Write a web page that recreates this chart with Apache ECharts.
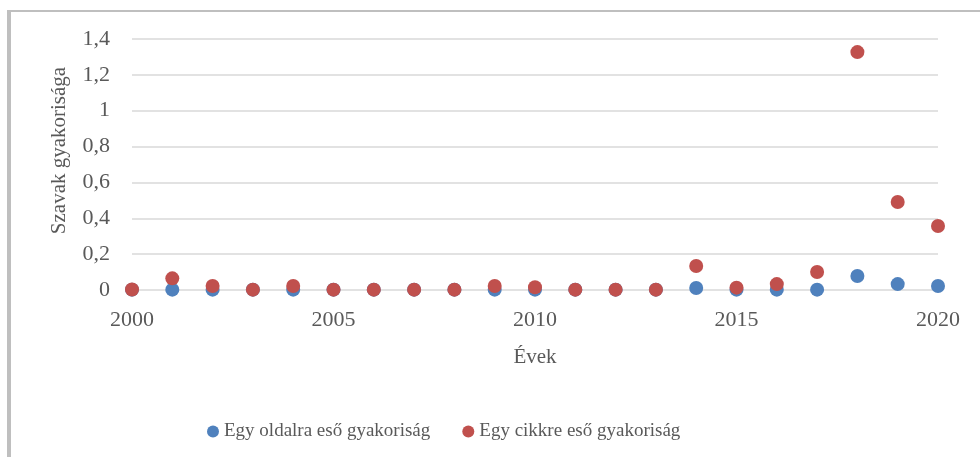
<!DOCTYPE html>
<html>
<head>
<meta charset="utf-8">
<title>Szavak gyakorisága</title>
<script src="https://cdn.jsdelivr.net/npm/echarts@6/dist/echarts.min.js"></script>
<style>
    html, body { margin: 0; padding: 0; background: #fff; }
    #chart { width: 980px; height: 457px; }
</style>
</head>
<body>
<div id="chart"></div>
<script>
var years = [2000, 2001, 2002, 2003, 2004, 2005, 2006, 2007, 2008, 2009, 2010,
             2011, 2012, 2013, 2014, 2015, 2016, 2017, 2018, 2019, 2020];
// Egy oldalra eső gyakoriság
var perPage = [0.002, 0.002, 0.002, 0.002, 0.002, 0.002, 0.002, 0.002, 0.002, 0.002, 0.002,
               0.002, 0.002, 0.002, 0.011, 0.002, 0.002, 0.002, 0.078, 0.033, 0.022];
// Egy cikkre eső gyakoriság
var perArticle = [0.003, 0.065, 0.022, 0.002, 0.022, 0.002, 0.002, 0.002, 0.002, 0.022, 0.015,
                  0.002, 0.002, 0.002, 0.134, 0.013, 0.033, 0.1, 1.327, 0.491, 0.357];
var seriesNames = ['Egy oldalra eső gyakoriság', 'Egy cikkre eső gyakoriság'];
var yTicks = [0, 0.2, 0.4, 0.6, 0.8, 1, 1.2, 1.4];

function pairs(vals) {
    return years.map(function (y, i) { return [y, vals[i]]; });
}

var font = 'Liberation Serif';
var txt = '#595959';

var option = {
    backgroundColor: '#fff',
    animation: false,
    grid: { left: 132, right: 42, top: 39, bottom: 167 },
    legend: {
        data: seriesNames,
        left: 202,
        top: 417,
        icon: 'circle',
        itemWidth: 12,
        itemHeight: 12,
        itemGap: 32,
        textStyle: { fontFamily: font, fontSize: 19, color: txt }
    },
    graphic: [
        { type: 'rect', shape: { x: 8, y: 10, width: 972, height: 2 }, style: { fill: '#bfbfbf' } },
        { type: 'rect', shape: { x: 7, y: 10, width: 4, height: 447 }, style: { fill: '#bfbfbf' } }
    ],
    xAxis: {
        type: 'value',
        min: 2000,
        max: 2020,
        interval: 5,
        name: 'Évek',
        nameLocation: 'middle',
        nameGap: 57,
        nameTextStyle: { fontFamily: font, fontSize: 21, color: txt },
        axisLine: { show: false },
        axisTick: { show: false },
        splitLine: { show: false },
        axisLabel: {
            fontFamily: font, fontSize: 22, color: txt, margin: 19,
            formatter: function (v) { return String(v); }
        }
    },
    yAxis: {
        type: 'value',
        min: yTicks[0],
        max: yTicks[yTicks.length - 1],
        interval: 0.2,
        name: 'Szavak gyakorisága',
        nameLocation: 'middle',
        nameGap: 62,
        nameTextStyle: { fontFamily: font, fontSize: 21, color: txt, padding: [0, 0, 0, 28] },
        axisLine: { show: false },
        axisTick: { show: false },
        splitLine: { lineStyle: { color: '#d9d9d9', width: 1.5 } },
        axisLabel: {
            fontFamily: font, fontSize: 22, color: txt, margin: 22,
            formatter: function (v) { return String(Math.round(v * 10) / 10).replace('.', ','); }
        }
    },
    series: [
        {
            name: seriesNames[0],
            type: 'scatter',
            symbolSize: 14,
            itemStyle: { color: '#4f81bd', opacity: 1 },
            data: pairs(perPage)
        },
        {
            name: seriesNames[1],
            type: 'scatter',
            symbolSize: 14,
            itemStyle: { color: '#c0504d', opacity: 1 },
            data: pairs(perArticle)
        }
    ]
};

var myChart = echarts.init(document.getElementById('chart'));
myChart.setOption(option);
</script>
</body>
</html>
